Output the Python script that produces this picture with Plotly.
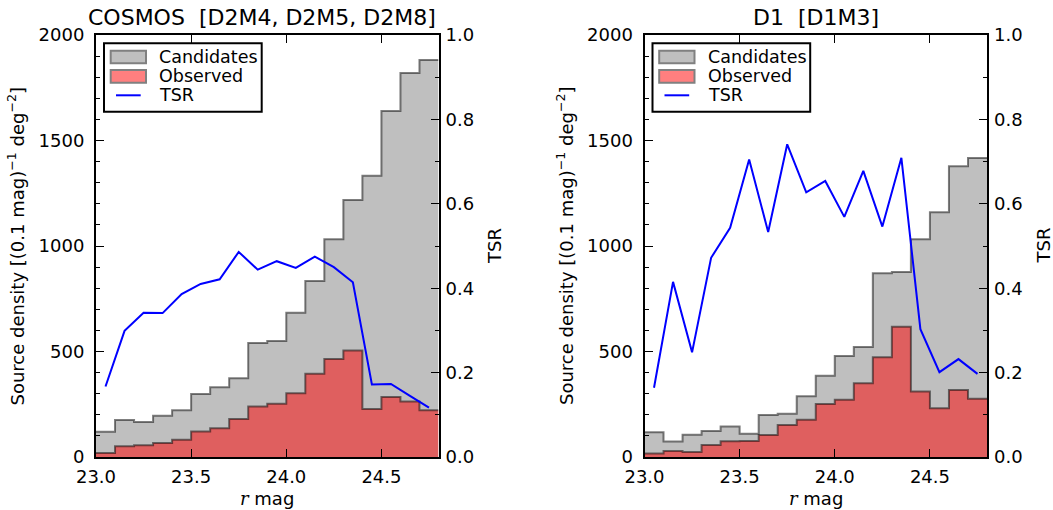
import plotly.graph_objects as go

# ---- data ---------------------------------------------------------------
mag_edges = [23.0, 23.1, 23.2, 23.3, 23.4, 23.5, 23.6, 23.7, 23.8, 23.9,
             24.0, 24.1, 24.2, 24.3, 24.4, 24.5, 24.6, 24.7, 24.8]
mag_centers = [23.05, 23.15, 23.25, 23.35, 23.45, 23.55, 23.65, 23.75, 23.85,
               23.95, 24.05, 24.15, 24.25, 24.35, 24.45, 24.55, 24.65, 24.75]

# COSMOS [D2M4, D2M5, D2M8]
cosmos_candidates = [120, 175, 166, 196, 221, 299, 330, 373, 540, 550,
                     684, 834, 1032, 1218, 1333, 1640, 1820, 1882]
cosmos_observed = [19, 51, 56, 66, 82, 121, 136, 180, 239, 252,
                   302, 394, 465, 505, 228, 284, 263, 221]
cosmos_tsr = [0.167, 0.299, 0.342, 0.341, 0.386, 0.410, 0.421, 0.486, 0.444,
              0.464, 0.448, 0.475, 0.450, 0.414, 0.172, 0.173, 0.145, 0.117]

# D1 [D1M3]
d1_candidates = [117, 74, 106, 123, 144, 110, 199, 205, 288, 385,
                 479, 521, 871, 877, 1032, 1160, 1378, 1417]
d1_observed = [16, 29, 24, 57, 75, 76, 104, 152, 176, 251,
               271, 350, 473, 617, 311, 231, 317, 276]
d1_tsr = [0.164, 0.415, 0.248, 0.472, 0.543, 0.705, 0.533, 0.741, 0.627,
          0.654, 0.569, 0.678, 0.546, 0.709, 0.303, 0.201, 0.232, 0.197]

panel_titles = ["COSMOS\u00a0\u00a0[D2M4, D2M5, D2M8]", "D1\u00a0\u00a0[D1M3]"]
density_ticks = [0, 500, 1000, 1500, 2000]
tsr_ticks = [0.0, 0.2, 0.4, 0.6, 0.8, 1.0]
mag_ticks = [23.0, 23.5, 24.0, 24.5]
legend_labels = ["Candidates", "Observed", "TSR"]

# ---- figure geometry (pixels) ------------------------------------------
W, H = 1053, 510
FONT = "DejaVu Sans"


def fx(px):
    return px / W


def fy(py):
    return 1 - py / H


panels = [
    dict(x0=96.0, x1=438.5, cand=cosmos_candidates, obs=cosmos_observed,
         tsr=cosmos_tsr, title=panel_titles[0], title_x=262.0),
    dict(x0=644.5, x1=987.0, cand=d1_candidates, obs=d1_observed,
         tsr=d1_tsr, title=panel_titles[1], title_x=815.8),
]
PLOT_TOP, PLOT_BOTTOM = 35.0, 457.0

CAND_FILL = "rgba(128,128,128,0.5)"
OBS_FILL = "rgba(255,0,0,0.5)"
EDGE = "rgba(0,0,0,0.5)"
TSR_COLOR = "#0000ff"


def step(values):
    # step outline for a filled histogram: one point per left bin edge plus the last edge
    return mag_edges, list(values) + [values[-1]]


fig = go.Figure()
layout = dict(
    width=W, height=H,
    margin=dict(l=0, r=0, t=0, b=0),
    paper_bgcolor="white", plot_bgcolor="white",
    showlegend=False,
    font=dict(family=FONT, size=18, color="black"),
)

annotations = []
shapes = []

for i, p in enumerate(panels):
    xa = "x" if i == 0 else "x2"
    ya = "y" if i == 0 else "y3"
    ya2 = "y2" if i == 0 else "y4"
    xkey = "xaxis" if i == 0 else "xaxis2"
    ykey = "yaxis" if i == 0 else "yaxis3"
    y2key = "yaxis2" if i == 0 else "yaxis4"

    xs, ys = step(p["cand"])
    fig.add_trace(go.Scatter(x=xs, y=ys, mode="lines", line_shape="hv",
                             fill="tozeroy", fillcolor=CAND_FILL,
                             line=dict(color=EDGE, width=2),
                             name="Candidates", xaxis=xa, yaxis=ya))
    xs, ys = step(p["obs"])
    fig.add_trace(go.Scatter(x=xs, y=ys, mode="lines", line_shape="hv",
                             fill="tozeroy", fillcolor=OBS_FILL,
                             line=dict(color=EDGE, width=2),
                             name="Observed", xaxis=xa, yaxis=ya))
    fig.add_trace(go.Scatter(x=mag_centers, y=p["tsr"], mode="lines",
                             line=dict(color=TSR_COLOR, width=2),
                             name="TSR", xaxis=xa, yaxis=ya2))

    dom_x = [fx(p["x0"]), fx(p["x1"])]
    dom_y = [fy(PLOT_BOTTOM), fy(PLOT_TOP)]

    layout[xkey] = dict(
        domain=dom_x, anchor=ya, range=[23.0, 24.8],
        tickmode="array", tickvals=mag_ticks, tickformat=".1f",
        ticks="inside", ticklen=8, tickwidth=1, tickcolor="black",
        showline=True, linewidth=2, linecolor="black", mirror="ticks",
        showgrid=False, zeroline=False, automargin=False,
        tickfont=dict(family=FONT, size=18), ticklabelstandoff=2,
    )
    layout[ykey] = dict(
        domain=dom_y, anchor=xa, range=[0, 2000],
        tickmode="array", tickvals=density_ticks,
        ticks="inside", ticklen=8, tickwidth=1, tickcolor="black",
        minor=dict(dtick=100, tick0=0, ticks="inside", ticklen=4,
                   tickwidth=1, tickcolor="black", showgrid=False),
        showline=True, linewidth=2, linecolor="black", mirror=True,
        showgrid=False, zeroline=False, automargin=False,
        tickfont=dict(family=FONT, size=18), ticklabelstandoff=6,
    )
    layout[y2key] = dict(
        overlaying=ya, anchor=xa, side="right", range=[0, 1],
        tickmode="array", tickvals=tsr_ticks, tickformat=".1f",
        ticks="inside", ticklen=8, tickwidth=1, tickcolor="black",
        minor=dict(dtick=0.1, tick0=0, ticks="inside", ticklen=4,
                   tickwidth=1, tickcolor="black", showgrid=False),
        showline=False, showgrid=False, zeroline=False, automargin=False,
        tickfont=dict(family=FONT, size=18), ticklabelstandoff=6,
    )

    off = p["x0"] - 96.0
    cx = (p["x0"] + p["x1"]) / 2

    # panel title
    annotations.append(dict(text=p["title"], x=fx(p["title_x"]), y=fy(17.4),
                            xref="paper", yref="paper", xanchor="center",
                            yanchor="middle", showarrow=False,
                            font=dict(family=FONT, size=22, color="black")))
    # axis titles
    annotations.append(dict(text="<span style='font-family:DejaVu Serif;font-style:italic'>r</span> mag",
                            x=fx(cx), y=fy(498), xref="paper", yref="paper",
                            xanchor="center", yanchor="middle", showarrow=False,
                            font=dict(family=FONT, size=18, color="black")))
    annotations.append(dict(text="Source density [(0.1 mag)<sup>\u22121</sup> deg<sup>\u22122</sup>]",
                            x=fx(16.5 + off), y=fy(246), xref="paper", yref="paper",
                            xanchor="center", yanchor="middle", textangle=-90,
                            showarrow=False,
                            font=dict(family=FONT, size=18, color="black")))
    annotations.append(dict(text="TSR", x=fx(494 + off), y=fy(246),
                            xref="paper", yref="paper", xanchor="center",
                            yanchor="middle", textangle=-90, showarrow=False,
                            font=dict(family=FONT, size=18, color="black")))

    # legend box
    lx0, lx1, ly0, ly1 = 104 + off, 261.7 + off, 43.3, 111.7
    shapes.append(dict(type="rect", xref="paper", yref="paper",
                       x0=fx(lx0), x1=fx(lx1), y0=fy(ly1), y1=fy(ly0),
                       line=dict(color="black", width=2), fillcolor="white"))
    # candidates patch
    shapes.append(dict(type="rect", xref="paper", yref="paper",
                       x0=fx(110.7 + off), x1=fx(146 + off), y0=fy(63.3), y1=fy(50.7),
                       line=dict(color="#808080", width=2), fillcolor="#bfbfbf"))
    # observed patch
    shapes.append(dict(type="rect", xref="paper", yref="paper",
                       x0=fx(110.7 + off), x1=fx(146 + off), y0=fy(82.7), y1=fy(70),
                       line=dict(color="#808080", width=2), fillcolor="#ff7f7f"))
    # TSR line sample
    shapes.append(dict(type="line", xref="paper", yref="paper",
                       x0=fx(116 + off), x1=fx(140.7 + off), y0=fy(95.3), y1=fy(95.3),
                       line=dict(color=TSR_COLOR, width=2)))
    for label, yc in zip(legend_labels, [57.0, 76.3, 95.3]):
        annotations.append(dict(text=label, x=fx(157 + off), y=fy(yc),
                                xref="paper", yref="paper", xanchor="left",
                                yanchor="middle", showarrow=False,
                                font=dict(family=FONT, size=17.5, color="black")))

layout["annotations"] = annotations
layout["shapes"] = shapes
fig.update_layout(**layout)
fig.write_html("out.html")
